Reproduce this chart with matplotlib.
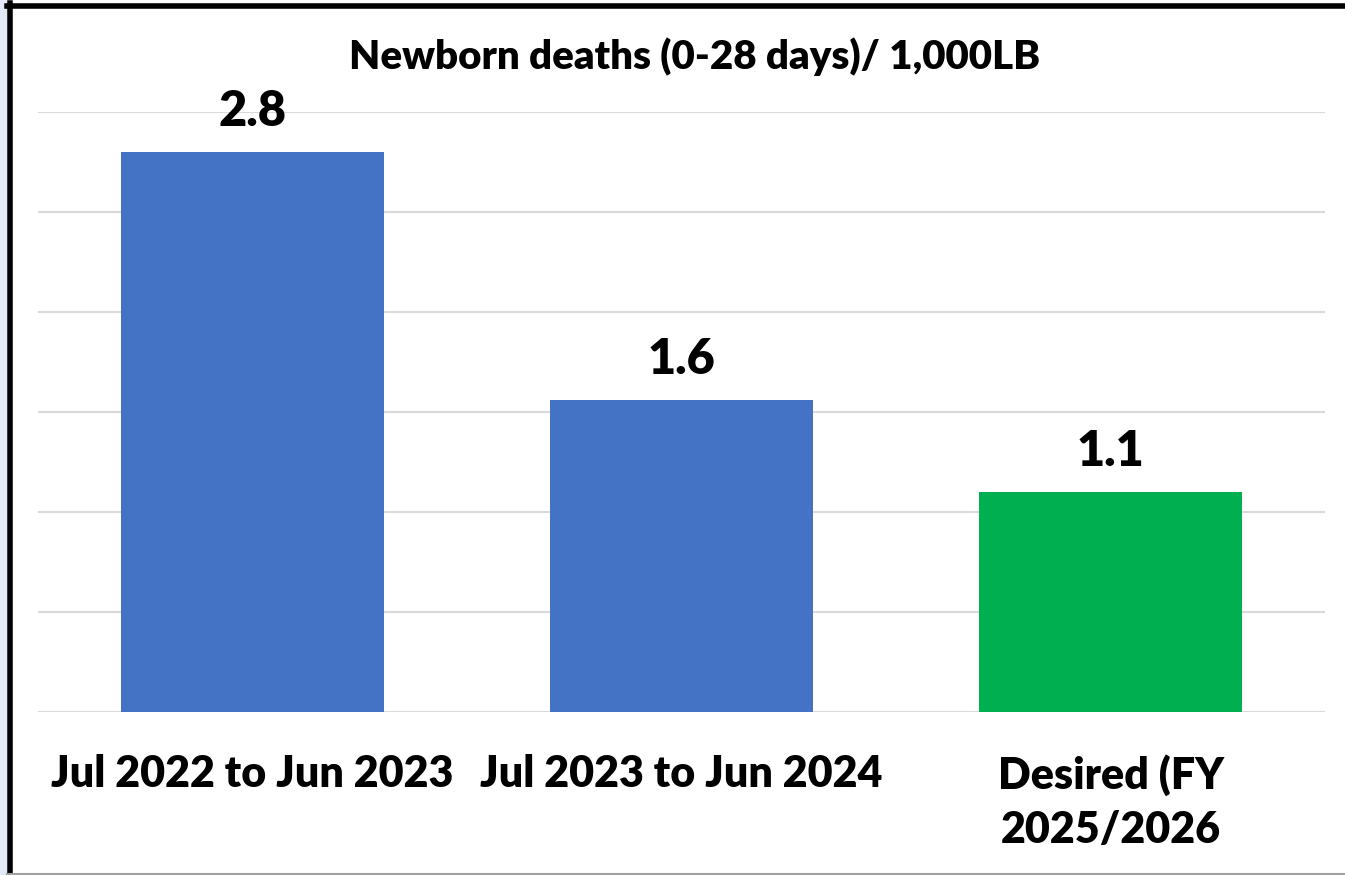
import matplotlib.pyplot as plt
from matplotlib.patches import Rectangle
from matplotlib.lines import Line2D

categories = ['Jul 2022 to Jun 2023', 'Jul 2023 to Jun 2024', 'Desired (FY\n2025/2026']
values = [2.8, 1.56, 1.1]
colors = ['#4472C4', '#4472C4', '#00B050']
title = 'Newborn deaths (0-28 days)/ 1,000LB'

plt.rcParams['font.family'] = ['Lato', 'DejaVu Sans']

fig = plt.figure(figsize=(13.45, 8.75), dpi=100)
ax = fig.add_axes([38 / 1345, 1 - 712 / 875, 1287 / 1345, 600 / 875])

x = range(len(categories))
bars = ax.bar(x, values, width=0.615, color=colors, zorder=3)
for b, v in zip(bars, values):
    ax.annotate('%.1f' % v, (b.get_x() + b.get_width() / 2, v),
                xytext=(0, 19), textcoords='offset points',
                ha='center', va='baseline', fontsize=35, fontweight='heavy')

ax.set_xlim(-0.5, 2.5)
ax.set_ylim(0, 3.0)
ax.set_yticks([0, 0.5, 1.0, 1.5, 2.0, 2.5, 3.0])
ax.yaxis.grid(True, color='#D9D9D9', linewidth=1.5, zorder=0)
ax.tick_params(axis='y', left=False, labelleft=False)
ax.tick_params(axis='x', length=0, pad=30)
ax.set_xticks(list(x))
ax.set_xticklabels(categories, fontsize=31, fontweight='heavy', linespacing=1.43)
for s in ax.spines.values():
    s.set_visible(False)

fig.text(695 / 1345, 1 - 57 / 875, title, ha='center', va='center',
         fontsize=29, fontweight='heavy')

# frame of the original screenshot
fig.patches.append(Rectangle((0, 0), 7 / 1345, 1, transform=fig.transFigure,
                             facecolor='#E4E9F8', edgecolor='none'))
fig.lines.append(Line2D([9.5 / 1345, 9.5 / 1345], [0, 1 - 3 / 875],
                        transform=fig.transFigure, color='black', linewidth=4))
fig.lines.append(Line2D([7 / 1345, 1], [1 - 5.5 / 875, 1 - 5.5 / 875],
                        transform=fig.transFigure, color='black', linewidth=4))
fig.lines.append(Line2D([7 / 1345, 1], [1.5 / 875, 1.5 / 875],
                        transform=fig.transFigure, color='#A0A0A0', linewidth=1.5))

fig.savefig('out.png', dpi=100)
